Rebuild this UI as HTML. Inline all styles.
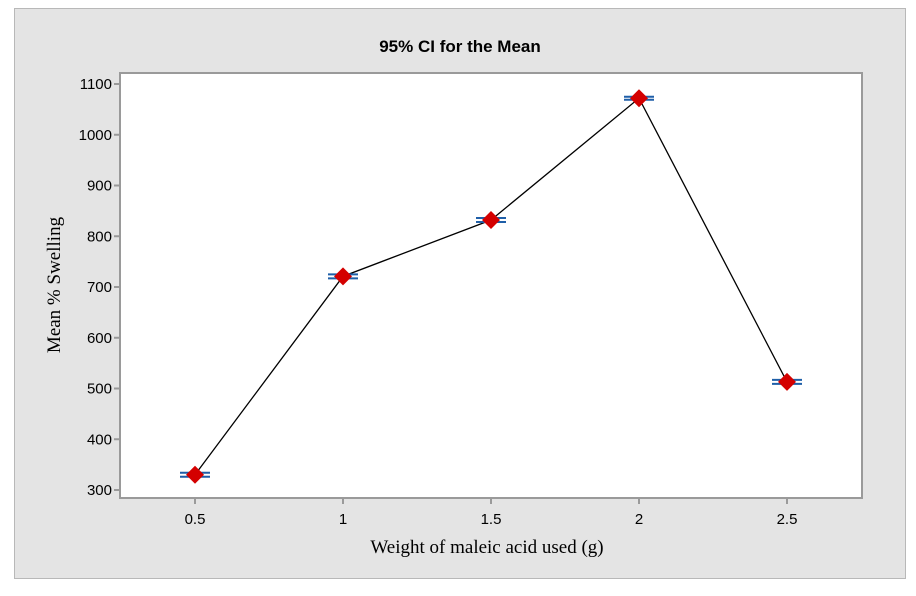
<!DOCTYPE html>
<html><head><meta charset="utf-8"><style>
html,body{margin:0;padding:0;background:#fff;}
svg{display:block;}
</style></head><body>
<svg width="916" height="596" xmlns="http://www.w3.org/2000/svg">
<rect x="14.5" y="8.5" width="891" height="570" fill="#e4e4e4" stroke="#b8b8b8"/>
<rect x="120" y="73" width="742" height="425" fill="#fff" stroke="#9a9a9a" stroke-width="2"/>
<text x="460" y="52" text-anchor="middle" font-family="Liberation Sans, sans-serif" font-size="17" font-weight="bold">95% CI for the Mean</text>
<text x="487" y="553" text-anchor="middle" font-family="Liberation Serif, serif" font-size="19">Weight of maleic acid used (g)</text>
<text transform="translate(60,285) rotate(-90)" text-anchor="middle" font-family="Liberation Serif, serif" font-size="19">Mean % Swelling</text>
<g id="axes"></g>
<g id="marks"></g>
</svg>
<script>
const categories = ["0.5","1","1.5","2","2.5"];
const xValues = [0.5,1,1.5,2,2.5];
const means = [330,721,832,1072,513];
const ciHalf = [4,4,4,3,4];
const yTicks = [300,400,500,600,700,800,900,1000,1100];

const NS="http://www.w3.org/2000/svg";
function X(v){return 195+(v-0.5)*296;}
function Y(v){return 490-(v-300)*0.5075;}
function mk(t,a,p){const e=document.createElementNS(NS,t);for(const k in a)e.setAttribute(k,a[k]);p.appendChild(e);return e;}
const axes=document.getElementById('axes'), marks=document.getElementById('marks');
yTicks.forEach(v=>{
  const l=mk('line',{x1:114,x2:120,y1:Y(v),y2:Y(v),stroke:'#9a9a9a','stroke-width':2},axes);
  
  
  const t=mk('text',{x:112,y:Y(v)+5,'text-anchor':'end','font-family':'Liberation Sans, sans-serif','font-size':15},axes);
  t.textContent=v;
  
  
});
categories.forEach((c,i)=>{
  const x=X(xValues[i]);
  const l=mk('line',{x1:x,x2:x,y1:498,y2:504,stroke:'#9a9a9a','stroke-width':2},axes);
  
  
  const t=mk('text',{x:x,y:524,'text-anchor':'middle','font-family':'Liberation Sans, sans-serif','font-size':15},axes);
  t.textContent=c;
  
  
});
const pts=means.map((m,i)=>X(xValues[i])+','+Y(m)).join(' ');
const pl=mk('polyline',{points:pts,fill:'none',stroke:'#000','stroke-width':1.3},marks);


means.forEach((m,i)=>{
  const x=X(xValues[i]);
  [m-ciHalf[i],m+ciHalf[i]].forEach(v=>{
    const e=mk('line',{x1:x-15,x2:x+15,y1:Y(v),y2:Y(v),stroke:'#1f5fa8','stroke-width':2},marks);
    
    
  });
  const y=Y(m);
  const d=mk('polygon',{points:`${x},${y-9} ${x+9},${y} ${x},${y+9} ${x-9},${y}`,fill:'#d40000'},marks);
  
  
});
</script>
</body></html>
